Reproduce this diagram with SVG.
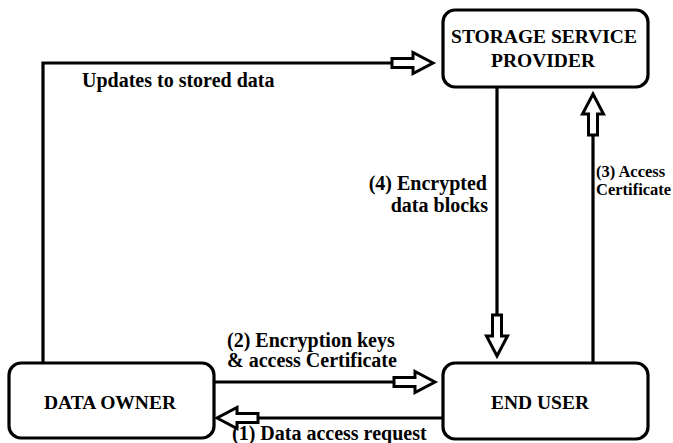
<svg xmlns="http://www.w3.org/2000/svg" width="673" height="443" viewBox="0 0 673 443" font-family="'Liberation Serif', 'Times New Roman', Tinos, 'DejaVu Serif', serif" font-weight="bold">
<style>
.box{fill:#fff;stroke:#000;stroke-width:3.2}
.ln{fill:none;stroke:#000;stroke-width:3.2}
.ha{fill:#fff;stroke:#000;stroke-width:3;stroke-linejoin:miter}
.nl{font-size:19.5px;text-anchor:middle}
.el{font-size:20px}
.sm{font-size:16.5px}
</style>
<defs>
<path id="ha" class="ha" d="M0,0 L-20,-10.5 L-20,-4.5 L-41,-4.5 L-41,4.5 L-20,4.5 L-20,10.5 Z"/>
</defs>
<rect width="673" height="443" fill="#fff"/>
<g id="connectors">
<polyline class="ln" points="43,363 43,63 392,63"/>
<use href="#ha" transform="translate(433,63)"/>
<line class="ln" x1="497" y1="87" x2="497" y2="316"/>
<use href="#ha" transform="translate(497,356) rotate(90)"/>
<line class="ln" x1="593" y1="362" x2="593" y2="133"/>
<use href="#ha" transform="translate(593,94) rotate(-90)"/>
<line class="ln" x1="214" y1="382" x2="394" y2="382"/>
<use href="#ha" transform="translate(435,382)"/>
<line class="ln" x1="443" y1="418" x2="258" y2="418"/>
<use href="#ha" transform="translate(217,418) rotate(180)"/>
<text class="el" x="82" y="87">Updates to stored data</text>
<text class="el" x="487" y="190" text-anchor="end">(4) Encrypted</text>
<text class="el" x="488" y="212" text-anchor="end">data blocks</text>
<text class="sm" x="596" y="177">(3) Access</text>
<text class="sm" x="596" y="195">Certificate</text>
<text class="el" x="227" y="347">(2) Encryption keys</text>
<text class="el" x="227" y="367">&amp; access Certificate</text>
<text class="el" x="232" y="440">(1) Data access request</text>
</g>
<g id="storage-service-provider">
<rect class="box" x="443" y="10" width="205" height="77" rx="12"/>
<text class="nl" x="544" y="43">STORAGE SERVICE</text>
<text class="nl" x="543" y="67">PROVIDER</text>
</g>
<g id="data-owner">
<rect class="box" x="9" y="363" width="205" height="75" rx="12"/>
<text class="nl" x="110" y="409">DATA OWNER</text>
</g>
<g id="end-user">
<rect class="box" x="443" y="363" width="205" height="76" rx="12"/>
<text class="nl" x="540" y="409">END USER</text>
</g>
</svg>
